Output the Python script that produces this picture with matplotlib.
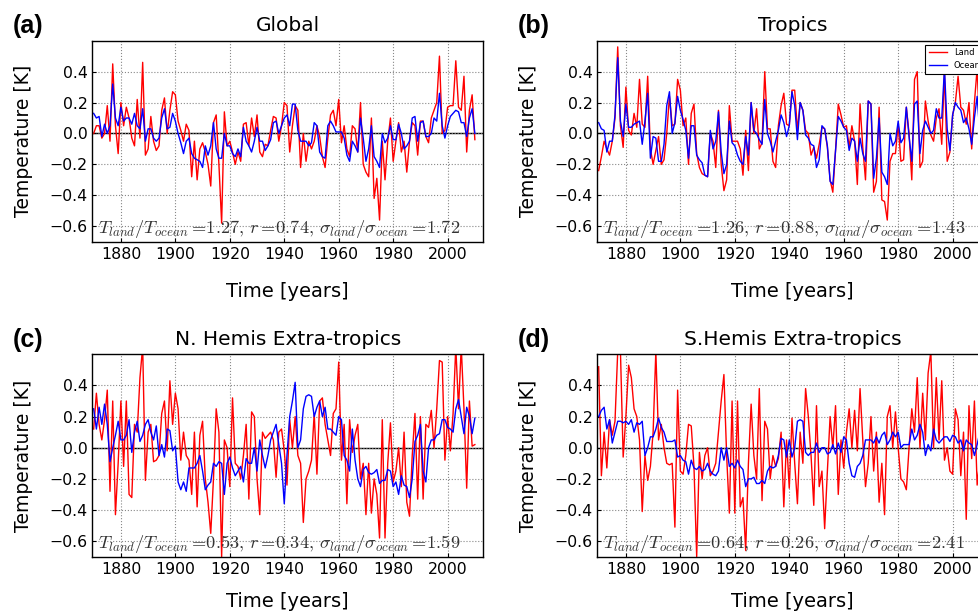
import numpy as np
import matplotlib
matplotlib.use("Agg")
import matplotlib.pyplot as plt

years = np.arange(1870, 2011)

global_land = [
    0.0, 0.05, 0.05, -0.03, 0.0, 0.18, -0.05, 0.45, 0.05, -0.13,
    0.2, 0.05, 0.17, 0.1, -0.03, -0.08, 0.22, -0.03, 0.46, -0.14,
    -0.1, 0.11, -0.05, -0.11, -0.08, 0.15, 0.23, 0.0, 0.15, 0.27,
    0.25, 0.08, 0.02, -0.05, 0.06, 0.02, -0.28, -0.05, -0.3, -0.1,
    -0.06, -0.12, -0.2, -0.34, 0.07, 0.12, -0.2, -0.58, 0.14, -0.08,
    -0.05, -0.12, -0.2, -0.12, -0.18, 0.06, 0.07, -0.08, 0.1, -0.02,
    0.12, -0.12, -0.15, -0.07, -0.08, 0.02, 0.11, 0.1, -0.05, 0.05,
    0.2, 0.18, -0.12, 0.05, 0.18, 0.15, -0.22, 0.0, -0.18, -0.05,
    -0.1, -0.05, 0.05, -0.02, -0.15, -0.22, -0.03, 0.12, 0.15, 0.05,
    0.22, -0.06, 0.05, -0.1, -0.15, 0.05, 0.03, -0.12, 0.2, -0.2,
    -0.25, -0.28, 0.1, -0.42, -0.29, -0.56, -0.05, -0.3, -0.05, 0.1,
    -0.18, -0.05, 0.07, -0.12, -0.05, -0.25, -0.05, 0.07, 0.05, -0.14,
    0.08, 0.08, -0.02, -0.06, 0.1, 0.15, 0.2, 0.5, 0.0, 0.02,
    0.17, 0.18, 0.18, 0.47, 0.17, 0.15, 0.37, -0.12, 0.15, 0.25,
    -0.04]
global_ocean = [
    0.13, 0.1, 0.11, -0.02, 0.06, 0.0, 0.05, 0.32, 0.1, 0.05,
    0.17, 0.08, 0.1, 0.1, 0.06, 0.13, 0.05, 0.03, 0.16, -0.05,
    0.03, 0.03, -0.03, -0.05, -0.03, 0.1, 0.16, 0.03, 0.04, 0.13,
    0.08, 0.0, -0.06, -0.13, -0.05, -0.03, -0.13, -0.16, -0.17, -0.18,
    -0.22, -0.08, -0.14, -0.08, 0.07, -0.1, -0.16, -0.16, 0.0, -0.08,
    -0.08, -0.13, -0.15, -0.1, -0.15, 0.04, -0.05, -0.08, -0.12, -0.05,
    0.04, -0.05, -0.05, -0.11, -0.08, -0.04, 0.07, 0.08, 0.0, 0.05,
    0.1, 0.12, 0.05, 0.19, 0.19, 0.02, -0.05, -0.05, -0.05, -0.08,
    -0.06, 0.07, 0.05, -0.12, -0.15, -0.16, 0.05, 0.08, 0.05, 0.01,
    0.01, 0.01, -0.03, -0.14, -0.18, -0.05, -0.08, -0.12, 0.1, -0.03,
    -0.18, -0.1, 0.05, -0.15, -0.18, -0.22, 0.0, -0.06, -0.03, 0.05,
    -0.04, -0.04, 0.06, 0.0, -0.1, -0.08, -0.05, 0.1, 0.11, -0.05,
    0.07, 0.08, -0.02, -0.02, 0.0, 0.1, 0.08, 0.26, 0.05, -0.03,
    0.05, 0.11, 0.13, 0.15, 0.14, 0.07, 0.07, -0.02, 0.1, 0.16,
    0.0]

tropics_land = [
    -0.24, -0.15, -0.05, -0.1, -0.14, -0.05, 0.1, 0.56, 0.05, -0.09,
    0.3, 0.02, -0.01, 0.13, 0.04, 0.35, 0.06, 0.04, 0.37, -0.1,
    -0.2, -0.11, -0.02, -0.2, -0.17, 0.0, 0.24, 0.05, 0.06, 0.35,
    0.28, 0.05, 0.1, -0.2, 0.13, 0.19, -0.13, -0.22, -0.26, -0.27,
    -0.28, 0.0, -0.05, -0.22, 0.15, -0.2, -0.37, -0.3, 0.18, -0.05,
    -0.05, -0.05, -0.1, -0.27, 0.02, -0.24, 0.2, 0.0, 0.16, -0.1,
    -0.06, 0.4, 0.03, 0.03, -0.18, -0.22, 0.05, 0.18, 0.26, 0.06,
    0.05, 0.28, 0.28, 0.02, 0.2, 0.15, 0.02, 0.0, -0.14, -0.09,
    -0.16, -0.07, 0.04, 0.03, -0.09, -0.3, -0.38, -0.11, 0.19, 0.12,
    0.04, 0.05, -0.09, 0.05, -0.05, -0.33, 0.19, -0.09, -0.3, 0.21,
    0.19, -0.38, -0.31, 0.17, -0.43, -0.44, -0.56, -0.18, -0.13, -0.13,
    0.06, -0.18, -0.17, 0.17, 0.0, -0.3, 0.35, 0.4, -0.22, -0.18,
    0.21, 0.08, -0.01, -0.05, 0.1, 0.16, -0.07, 0.4, -0.18, -0.12,
    0.12, 0.2, 0.37, 0.17, 0.15, 0.06, 0.2, -0.1, 0.2, 0.42,
    0.0]
tropics_ocean = [
    0.07, 0.03, 0.02, -0.12, -0.05, -0.05, 0.12, 0.49, 0.08, -0.02,
    0.19, 0.04, 0.04, 0.06, 0.07, 0.08, -0.07, 0.08, 0.26, -0.16,
    -0.02, -0.03, -0.18, -0.18, -0.07, 0.18, 0.27, 0.0, 0.07, 0.24,
    0.15, 0.09, 0.02, -0.16, 0.05, 0.05, -0.14, -0.17, -0.19, -0.27,
    -0.28, 0.02, -0.1, -0.05, 0.14, -0.12, -0.26, -0.2, 0.08, -0.06,
    -0.08, -0.14, -0.18, -0.2, -0.02, -0.14, 0.2, 0.02, 0.0, -0.04,
    -0.07, 0.22, 0.0, -0.05, -0.12, -0.05, 0.02, 0.12, 0.07, -0.02,
    0.05, 0.27, 0.18, -0.04, 0.2, 0.15, -0.01, -0.03, -0.07, -0.08,
    -0.22, -0.17, 0.05, 0.03, -0.08, -0.31, -0.33, -0.11, 0.11, 0.08,
    0.04, 0.02, -0.11, -0.03, -0.05, -0.18, -0.03, -0.13, -0.18, 0.21,
    0.19, -0.29, -0.16, 0.1, -0.25, -0.28, -0.33, 0.0, -0.08, -0.05,
    0.08, -0.06, -0.03, 0.17, -0.02, -0.18, 0.19, 0.21, -0.13, 0.02,
    0.08, 0.04, 0.0, 0.02, 0.16, 0.1, 0.1, 0.42, 0.03, -0.11,
    0.12, 0.2, 0.17, 0.15, 0.07, 0.1, 0.03, -0.07, 0.1, 0.24,
    0.0]

nh_land = [
    0.12, 0.35, 0.15, 0.05, 0.18, 0.37, -0.28, 0.3, -0.43, -0.1,
    0.3, -0.12, 0.3, -0.3, -0.32, 0.15, 0.1, 0.45, 0.65, -0.21,
    0.1, 0.15, -0.09, -0.08, -0.05, 0.22, 0.3, -0.02, 0.43, 0.15,
    0.35, 0.25, -0.08, 0.1, -0.05, -0.08, -0.3, 0.1, -0.38, 0.08,
    0.17, -0.2, -0.35, -0.55, -0.2, 0.25, 0.1, -0.7, 0.05, 0.0,
    -0.25, 0.32, -0.1, -0.12, -0.2, -0.05, 0.15, -0.33, 0.23, 0.2,
    -0.2, -0.43, 0.1, 0.06, 0.08, 0.1, 0.05, -0.19, 0.1, 0.12,
    -0.02, -0.24, 0.18, 0.0, 0.2, -0.05, -0.1, -0.48, -0.2, -0.15,
    -0.08, 0.22, -0.17, 0.3, 0.32, 0.15, 0.05, -0.05, 0.22, 0.25,
    0.55, -0.08, 0.15, -0.36, 0.18, -0.03, 0.08, 0.15, -0.2, -0.1,
    -0.43, -0.1, -0.42, -0.2, -0.3, -0.58, 0.18, -0.58, -0.1, 0.16,
    -0.22, -0.15, 0.0, -0.25, 0.1, -0.35, -0.44, -0.05, 0.22, -0.33,
    0.2, -0.33, 0.15, 0.13, 0.24, 0.0, 0.25, 0.56, 0.55, -0.08,
    0.2, -0.02, 0.22, 0.65, 0.25, 0.65, 0.25, -0.26, 0.3, 0.01,
    0.02]
nh_ocean = [
    0.25, 0.12, 0.26, 0.15, 0.28, 0.15, -0.09, 0.0, 0.08, 0.17,
    0.05, 0.05, 0.08, 0.18, -0.03, 0.1, 0.17, 0.04, 0.08, 0.15,
    0.18, 0.1, 0.05, 0.14, -0.05, 0.02, -0.06, 0.12, 0.11, -0.02,
    0.01, -0.22, -0.27, -0.22, -0.28, -0.13, -0.13, -0.13, -0.1, -0.05,
    -0.15, -0.27, -0.24, -0.22, -0.1, -0.12, -0.09, -0.1, -0.3, -0.1,
    -0.06, -0.13, -0.18, -0.15, -0.12, -0.22, -0.07, -0.1, -0.1, 0.0,
    -0.15, 0.05, -0.05, -0.13, -0.05, 0.05, 0.1, 0.15, 0.02, -0.1,
    -0.36, -0.05, 0.2, 0.3, 0.42, 0.0, 0.05, 0.25, 0.33, 0.34,
    0.33, 0.2, 0.26, 0.3, 0.2, 0.26, 0.12, 0.12, 0.1, 0.08,
    0.2, 0.18, -0.05, -0.08, -0.15, 0.12, -0.08, -0.2, -0.25, -0.14,
    -0.12, -0.16, -0.17, -0.16, -0.14, -0.23, -0.21, -0.21, -0.14, -0.15,
    -0.25, -0.22, -0.3, -0.18, -0.24, -0.25, -0.32, -0.2, 0.04, 0.08,
    0.15, -0.15, -0.22, 0.0, 0.05, 0.05, 0.08, 0.09, 0.18, 0.18,
    0.13, 0.12, 0.1, 0.25, 0.31, 0.2, 0.09, 0.26, 0.2, 0.09,
    0.19]

sh_land = [
    0.52, -0.18, 0.1, -0.13, 0.18, 0.08, 0.17, 0.62, 0.62, -0.06,
    0.2, 0.53, 0.45, 0.25, 0.2, 0.05, -0.41, -0.05, -0.21, -0.12,
    0.1, 0.62, 0.05, 0.15, 0.0, -0.1, -0.11, -0.1, -0.51, 0.37,
    -0.15, -0.17, -0.05, 0.15, 0.14, -0.12, -0.7, -0.03, -0.2, -0.05,
    0.0, -0.18, -0.15, -0.1, 0.1, 0.3, 0.47, -0.05, -0.42, 0.3,
    -0.42, 0.3, -0.38, -0.32, -0.66, -0.1, 0.28, -0.05, -0.2, 0.38,
    -0.34, 0.17, 0.12, -0.2, -0.05, -0.12, -0.07, 0.1, -0.38, 0.05,
    -0.26, 0.19, -0.1, -0.36, 0.1, -0.1, 0.38, 0.2, -0.05, -0.37,
    0.27, -0.25, -0.15, -0.52, -0.15, 0.2, 0.0, 0.27, -0.3, 0.05,
    -0.13, 0.1, 0.25, 0.0, 0.24, -0.02, 0.38, 0.05, -0.25, -0.1,
    0.2, -0.15, 0.1, -0.35, -0.1, -0.43, 0.2, 0.27, 0.0, 0.23,
    0.0, -0.2, -0.22, -0.27, 0.0, 0.25, 0.1, 0.45, 0.0, 0.35,
    0.05, 0.48, 0.62, 0.0, 0.45, 0.05, 0.43, -0.08, 0.0, -0.15,
    -0.17, 0.25, 0.18, -0.18, 0.1, -0.46, 0.27, -0.07, 0.3, -0.24,
    -0.08]
sh_ocean = [
    0.2, 0.24, 0.26, 0.12, 0.18, 0.03, 0.1, 0.17, 0.17, 0.16,
    0.17, 0.15, 0.18, 0.1, 0.16, 0.15, 0.17, -0.05, 0.0, 0.07,
    0.07, 0.12, 0.19, 0.13, 0.1, 0.04, 0.04, 0.04, 0.05, -0.06,
    -0.05, -0.08, -0.09, -0.17, -0.08, -0.13, -0.14, -0.12, -0.15, -0.14,
    -0.1, -0.15, -0.17, -0.18, -0.15, 0.0, -0.08, 0.0, -0.12, -0.1,
    -0.13, -0.08, -0.12, -0.14, -0.25, -0.2, -0.2, -0.19, -0.23, -0.23,
    -0.21, -0.23, -0.15, -0.12, -0.13, -0.12, -0.05, 0.06, 0.05, -0.06,
    0.05, -0.06, 0.0, 0.17, 0.18, 0.17, -0.03, -0.05, -0.03, -0.03,
    0.03, -0.03, 0.0, 0.0, -0.04, -0.03, 0.02, -0.04, 0.03, -0.03,
    0.07, 0.05, -0.1, -0.18, -0.19, -0.12, -0.1, -0.05, 0.05, 0.05,
    0.05, 0.03, 0.07, 0.03, 0.08, 0.1, 0.02, 0.05, 0.1, 0.07,
    0.1, 0.0, 0.02, 0.02, 0.02, 0.12, 0.05, 0.08, 0.15, 0.1,
    -0.05, 0.02, -0.02, 0.12, 0.05, 0.03, 0.05, 0.07, 0.07, 0.04,
    0.08, 0.07, 0.03, 0.05, -0.02, 0.05, 0.03, 0.02, -0.05, 0.02,
    0.1]

titles = ["Global", "Tropics", "N. Hemis Extra-tropics", "S.Hemis Extra-tropics"]
letters = ["(a)", "(b)", "(c)", "(d)"]
stats = [("1.27", "0.74", "1.72"), ("1.26", "0.88", "1.43"),
         ("0.53", "0.34", "1.59"), ("0.64", "0.26", "2.41")]
series = [(global_land, global_ocean), (tropics_land, tropics_ocean),
          (nh_land, nh_ocean), (sh_land, sh_ocean)]
xticks = [1880, 1900, 1920, 1940, 1960, 1980, 2000]
yticks = [-0.6, -0.4, -0.2, 0.0, 0.2, 0.4]

for land, ocean in series:
    assert len(land) == len(years) and len(ocean) == len(years)

plt.rcParams['mathtext.fontset'] = 'cm'

W, H = 979, 614
fig = plt.figure(figsize=(W / 100, H / 100), dpi=100)

# pixel boxes: (left, top, right, bottom)
boxes = [(92.3, 40.7, 483.3, 241.7), (597.3, 40.7, 988.3, 241.7),
         (92.3, 354.3, 483.3, 556.7), (597.3, 354.3, 988.3, 556.7)]

for i, (box, (land, ocean)) in enumerate(zip(boxes, series)):
    l, t, r, b = box
    ax = fig.add_axes([l / W, 1 - b / H, (r - l) / W, (b - t) / H])
    ax.plot(years, land, color='#ff0000', lw=1.0, label='Land')
    ax.plot(years, ocean, color='#0000ff', lw=1.0, label='Ocean')
    ax.axhline(0, color='black', lw=1.0, zorder=1)
    ax.set_xlim(1869.5, 2013.1)
    ax.set_ylim(-0.7, 0.6)
    ax.set_xticks(xticks)
    ax.set_yticks(yticks)
    ax.grid(True, linestyle=':', color='#888888', lw=0.8)
    ax.tick_params(direction='in', labelsize=11.3, length=3)
    ax.set_xlabel('Time [years]', fontsize=14, labelpad=15 if i < 2 else 11)
    ax.set_ylabel('Temperature [K]', fontsize=13.5, labelpad=12)
    ax.set_title(titles[i], fontsize=14.5, pad=7)
    for s in ax.spines.values():
        s.set_linewidth(1.0)
    a, rr, sg = stats[i]
    txt = (r'$T_{land}/T_{ocean}=\!%s,\,r=\!%s,\,\sigma_{land}/\sigma_{ocean}=\!%s$'
           % (a, rr, sg))
    ax.text(0.015, 0.045, txt, transform=ax.transAxes, fontsize=13.2,
            color='#333333', va='baseline', ha='left')
    fig.text((l - 80) / W, 1 - (t - 14.5) / H, letters[i], fontsize=18,
             fontweight='bold', family='Liberation Sans', va='center', ha='left')
    if i == 1:
        leg = ax.legend(loc='upper right', fontsize=6, fancybox=False,
                        edgecolor='black', framealpha=1, handlelength=2.2)
        leg.get_frame().set_linewidth(0.8)

fig.savefig('out.png', dpi=100)
